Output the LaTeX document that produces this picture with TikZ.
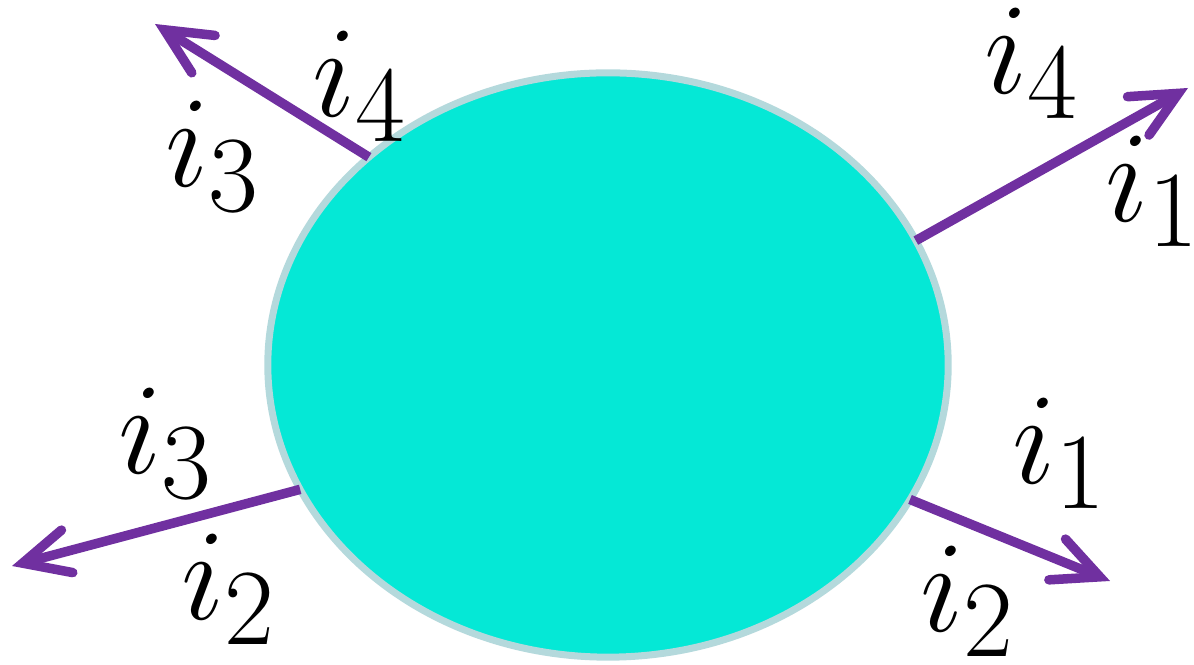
\documentclass[tikz,border=0pt]{standalone}
\usepackage{graphicx}
\usepackage{amsmath}
\usetikzlibrary{arrows.meta,shapes.geometric}
\definecolor{blobFill}{HTML}{05E8D6}
\definecolor{blobEdge}{HTML}{B4D9DC}
\definecolor{legPurple}{HTML}{7030A0}
\newcommand{\bigLab}[1]{\scalebox{1.487}{\Huge$#1$}}
\tikzset{
  blobShape/.style={
    ellipse,
    draw=blobEdge,
    fill=blobFill,
    line width=0.07cm,
    outer sep=0pt,
    minimum width=6.8cm,
    minimum height=5.84cm
  },
  legArrow/.style={
    legPurple,
    line width=0.095cm,
    -{Straight Barb[length=4.6mm, width=4.4mm, line cap=round, line join=miter]}
  },
  legLabel/.style={
    inner sep=0pt
  }
}

\begin{document}
\begin{tikzpicture}[x=0.01cm,y=-0.01cm]
  \useasboundingbox (0,0) rectangle (1194,665);
  \node[blobShape] (blob) at (608,365) {};

  % the four legs
  \coordinate (tipTL) at (155,24);
  \coordinate (tipTR) at (1188,88);
  \coordinate (tipBL) at (12,566);
  \coordinate (tipBR) at (1110,581);
  \draw[legArrow] (blob.139.5) -- (tipTL);
  \draw[legArrow] (blob.22.5) -- (tipTR);
  \draw[legArrow] (blob.202.9) -- (tipBL);
  \draw[legArrow] (blob.-24.4) -- (tipBR);

  % labels
  \node[legLabel] (tlFour) at (360,86) {\bigLab{i_4}};
  \node[legLabel] (tlThree) at (213,156) {\bigLab{i_3}};
  \node[legLabel] (trFour) at (1032,63) {\bigLab{i_4}};
  \node[legLabel] (trOne) at (1153,191) {\bigLab{i_1}};
  \node[legLabel] (blThree) at (166,443) {\bigLab{i_3}};
  \node[legLabel] (blTwo) at (229,589) {\bigLab{i_2}};
  \node[legLabel] (brOne) at (1060,453) {\bigLab{i_1}};
  \node[legLabel] (brTwo) at (968,601) {\bigLab{i_2}};
\end{tikzpicture}
\end{document}
